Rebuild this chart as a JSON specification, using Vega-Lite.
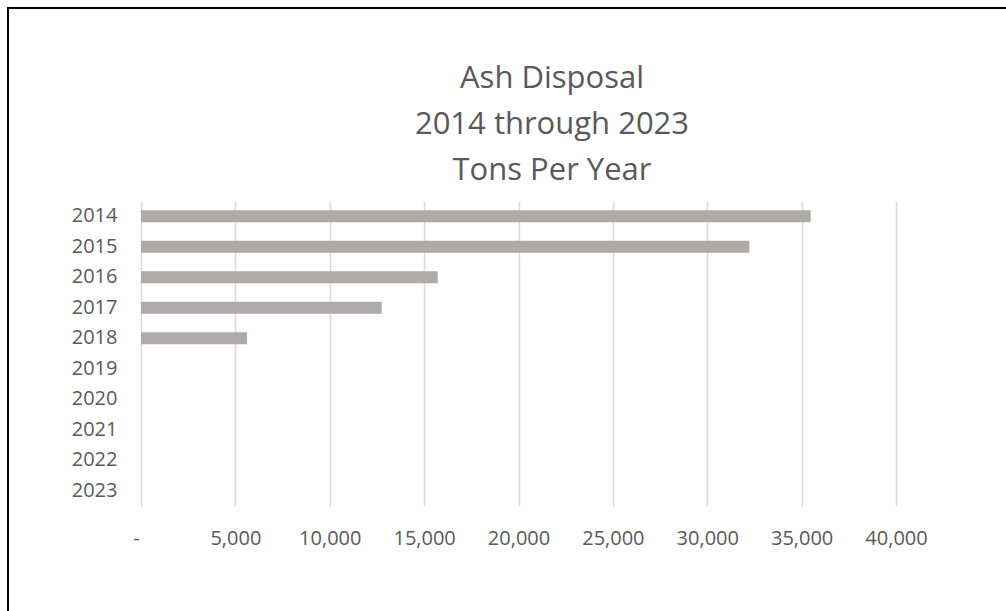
{
  "$schema": "https://vega.github.io/schema/vega-lite/v6.json",
  "width": 1002,
  "height": 607,
  "autosize": {"type": "none"},
  "padding": {"left": 8, "top": 8, "right": -4, "bottom": -4},
  "background": "white",
  "config": {
    "view": {"stroke": "black", "strokeWidth": 2, "fill": "white"},
    "axis": {"labelFont": "Open Sans", "labelFontSize": 20, "labelColor": "#595959"}
  },
  "title": {
    "text": ["Ash Disposal", "2014 through 2023", "Tons Per Year"],
    "anchor": "middle",
    "frame": "group",
    "baseline": "alphabetic",
    "offset": 0,
    "dx": 43,
    "dy": 203,
    "lineHeight": 46,
    "font": "Open Sans",
    "fontSize": 31,
    "fontWeight": "normal",
    "color": "#595959"
  },
  "data": {
    "values": [
      {"year": "2014", "tons": 35480},
      {"year": "2015", "tons": 32230},
      {"year": "2016", "tons": 15720},
      {"year": "2017", "tons": 12755},
      {"year": "2018", "tons": 5620},
      {"year": "2019", "tons": 0},
      {"year": "2020", "tons": 0},
      {"year": "2021", "tons": 0},
      {"year": "2022", "tons": 0},
      {"year": "2023", "tons": 0}
    ]
  },
  "mark": {"type": "bar", "color": "#ADAAA9"},
  "encoding": {
    "y": {
      "field": "year",
      "type": "ordinal",
      "title": null,
      "scale": {"range": [193, 498], "paddingInner": 0.6, "paddingOuter": 0.3},
      "axis": {
        "orient": "left",
        "offset": -133,
        "domain": false,
        "ticks": false,
        "tickSize": 0,
        "grid": false,
        "labelPadding": 24
      }
    },
    "x": {
      "field": "tons",
      "type": "quantitative",
      "title": null,
      "scale": {"domain": [0, 40000], "range": [133, 888], "nice": false, "zero": true},
      "axis": {
        "orient": "top",
        "offset": -498,
        "values": [0, 5000, 10000, 15000, 20000, 25000, 30000, 35000, 40000],
        "domain": false,
        "ticks": false,
        "tickSize": 0,
        "grid": true,
        "gridColor": "#D9D9D9",
        "gridWidth": 1.5,
        "labelBaseline": "top",
        "labelPadding": -22,
        "labelOffset": {"condition": {"test": "datum.value === 0", "value": -5}, "value": 0},
        "labelFlush": false,
        "labelOverlap": false,
        "labelExpr": "datum.value === 0 ? '-' : format(datum.value, ',')"
      }
    }
  }
}
